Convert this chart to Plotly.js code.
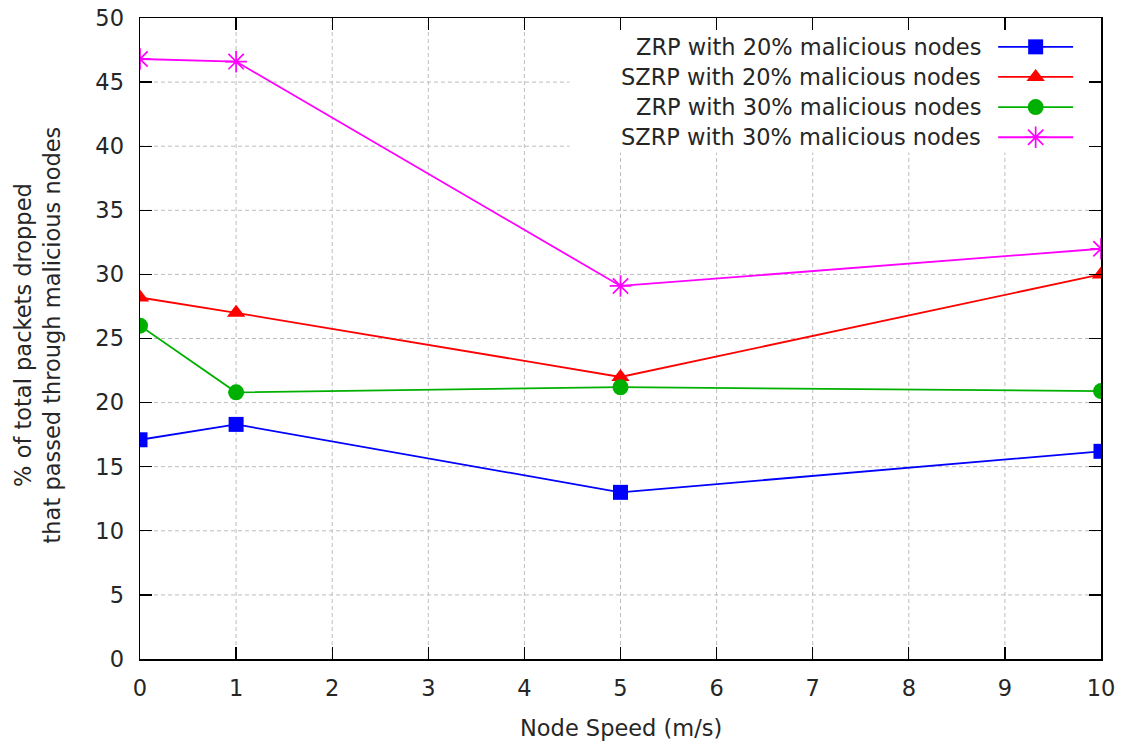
<!DOCTYPE html>
<html>
<head>
<meta charset="utf-8">
<script src="https://cdn.plot.ly/plotly-3.0.1.min.js"></script>
<style>html,body{margin:0;padding:0;background:#fff;}#chart{width:1123px;height:746px;}</style>
</head>
<body>
<div id="chart"></div>
<script>
// ---- data ----
const speeds = [0, 1, 5, 10];
const zrp20  = [17.1, 18.3, 13.0, 16.2];
const szrp20 = [28.2, 27.0, 22.0, 30.0];
const zrp30  = [26.0, 20.8, 21.2, 20.9];
const szrp30 = [46.8, 46.6, 29.1, 32.0];
const seriesNames = [
  "ZRP with 20% malicious nodes",
  "SZRP with 20% malicious nodes",
  "ZRP with 30% malicious nodes",
  "SZRP with 30% malicious nodes"
];
const xTickVals = [0,1,2,3,4,5,6,7,8,9,10];
const yTickVals = [0,5,10,15,20,25,30,35,40,45,50];
const xTitle = "Node Speed (m/s)";
const yTitle = "% of total packets dropped<br>that passed through malicious nodes";

// ---- styles ----
const styles = [
  {color:"#0000ff", symbol:"square", size:15},
  {color:"#ff0000", symbol:"triangle-up", size:16},
  {color:"#00b000", symbol:"circle", size:16},
  {color:"#ff00ff", symbol:"asterisk-open", size:18}
];
const values = [zrp20, szrp20, zrp30, szrp30];
const FONT = "DejaVu Sans, Verdana, sans-serif";
const FS = 22.5;
const TXT = "#262626";
const LW = 1.8;

function markerOf(s){
  return {color:s.color, symbol:s.symbol, size:s.size,
          line:{color:s.color, width: s.symbol==="asterisk-open"?1.7:0}};
}

const traces = values.map((v,i)=>({
  x: speeds, y: v, type:"scatter", mode:"lines+markers", name: seriesNames[i],
  showlegend:false,
  line:{color:styles[i].color, width:LW},
  marker:markerOf(styles[i])
}));

// custom legend (symbol to the right of right-aligned text), on overlay axes [0,1]
const legX0 = 0.893, legX1 = 0.971, legXm = 0.932;
const legRows = [0.955, 0.908, 0.861, 0.814];
const textRight = 0.877;
values.forEach((v,i)=>{
  traces.push({
    x:[legX0, legX1], y:[legRows[i], legRows[i]], xaxis:"x2", yaxis:"y2",
    type:"scatter", mode:"lines", showlegend:false, hoverinfo:"skip",
    line:{color:styles[i].color, width:LW}
  });
  traces.push({
    x:[legXm], y:[legRows[i]], xaxis:"x2", yaxis:"y2",
    type:"scatter", mode:"markers", showlegend:false, hoverinfo:"skip",
    marker:markerOf(styles[i])
  });
});

// legend box region (grid lines are interrupted there)
const boxX0 = 4.47, boxY0 = 39.5;
const gridStyle = {color:"#bdbdbd", width:1, dash:"4px,3px"};
const shapes = [];
xTickVals.slice(1,-1).forEach(xv=>{
  const top = xv >= boxX0 ? boxY0 : 50;
  shapes.push({type:"line", xref:"x", yref:"y", x0:xv, x1:xv, y0:0, y1:top, layer:"below", line:gridStyle});
});
yTickVals.slice(1,-1).forEach(yv=>{
  const right = yv >= boxY0 ? boxX0 : 10;
  shapes.push({type:"line", xref:"x", yref:"y", x0:0, x1:right, y0:yv, y1:yv, layer:"below", line:gridStyle});
});

const annotations = seriesNames.map((n,i)=>({
  xref:"paper", yref:"paper", x:textRight, y:legRows[i], xanchor:"right", yanchor:"middle",
  text:n, showarrow:false, font:{family:FONT, size:FS, color:TXT}
}));
annotations.push({
  xref:"paper", yref:"paper", x:-0.107, y:0.505, xanchor:"center", yanchor:"middle",
  text:yTitle, textangle:-90, showarrow:false, font:{family:FONT, size:FS, color:TXT}
});
annotations.push({
  xref:"paper", yref:"paper", x:0.5, y:-0.108, xanchor:"center", yanchor:"middle",
  text:xTitle, showarrow:false, font:{family:FONT, size:FS, color:TXT}
});

const axisCommon = {
  showgrid:false, zeroline:false, showline:true, linecolor:"#000", linewidth:1.5,
  mirror:"ticks", ticks:"inside", ticklen:12, tickwidth:1.3, tickcolor:"#000",
  tickfont:{family:FONT, size:FS, color:TXT}, fixedrange:true
};
const layout = {
  width:1123, height:746,
  margin:{l:140, r:22, t:18, b:87},
  paper_bgcolor:"#fff", plot_bgcolor:"#fff",
  xaxis:Object.assign({}, axisCommon, {range:[0,10], tickvals:xTickVals, ticktext:xTickVals.map(String), ticklabelstandoff:8}),
  yaxis:Object.assign({}, axisCommon, {range:[0,50], tickvals:yTickVals, ticktext:yTickVals.map(String), ticklabelstandoff:10}),
  xaxis2:{overlaying:"x", range:[0,1], visible:false, fixedrange:true},
  yaxis2:{overlaying:"y", range:[0,1], visible:false, fixedrange:true},
  shapes:shapes, annotations:annotations, showlegend:false,
  font:{family:FONT, color:TXT}
};
Plotly.newPlot("chart", traces, layout, {staticPlot:true, displayModeBar:false});
</script>
</body>
</html>
